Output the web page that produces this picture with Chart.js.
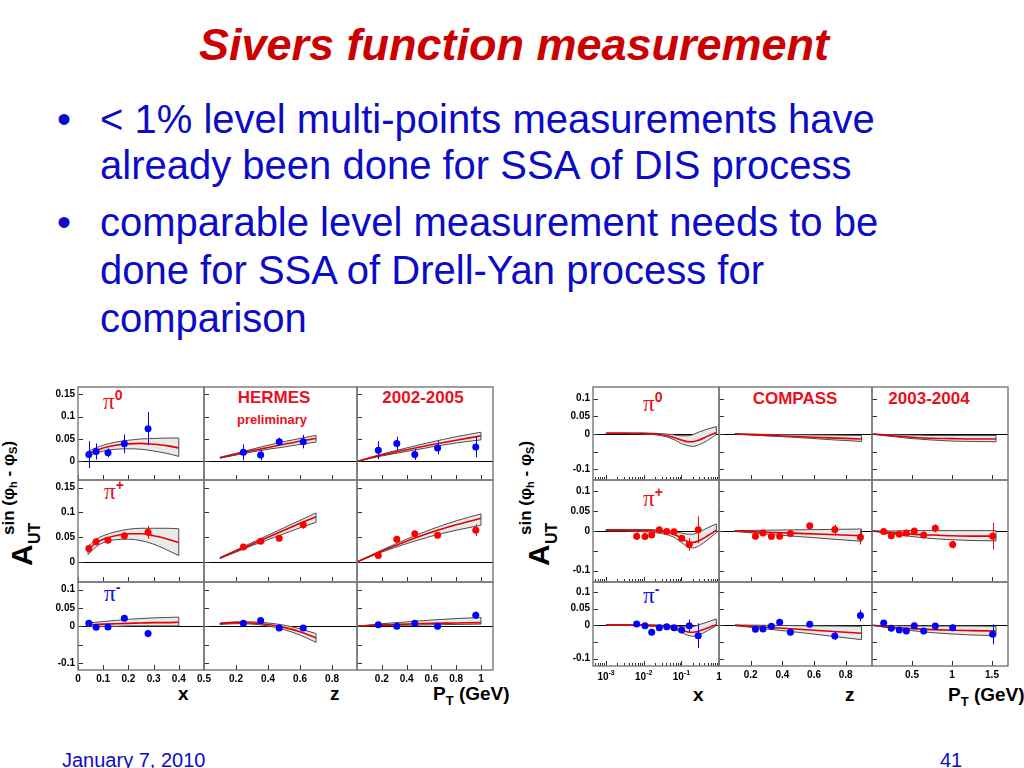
<!DOCTYPE html>
<html><head><meta charset="utf-8">
<script src="https://cdn.jsdelivr.net/npm/chart.js@4.4.1/dist/chart.umd.min.js"></script>
<style>
body{margin:0;width:1024px;height:768px;background:#fff;position:relative;overflow:hidden;font-family:"Liberation Sans",Arial,sans-serif;}
.t{position:absolute;white-space:nowrap;line-height:1;}
.c{transform:translateX(-50%);}
canvas{position:absolute;}
.title{font-weight:bold;font-style:italic;font-size:45px;color:#cc0000;}
.bl{font-size:40px;color:#0c0cc8;}
.foot{font-size:20px;color:#0c0cc8;}
.lab{font-weight:bold;font-size:17px;color:#e8101a;}
.pi{font-family:"Liberation Serif",serif;font-size:23px;}
.pi span{font-family:"Liberation Sans",sans-serif;font-weight:bold;font-size:14px;position:relative;top:-9px;}
.axt{font-weight:bold;font-size:19px;color:#000;}
.axt sub{font-size:13px;vertical-align:baseline;position:relative;top:5px;}
.ylab{position:absolute;width:150px;height:48px;transform-origin:0 0;transform:rotate(-90deg);font-weight:bold;color:#000;}
.ylab span{position:absolute;line-height:1;white-space:nowrap;}
.ylab .A{left:0;top:7px;font-size:30px;}
.ylab .sup{left:31px;top:0px;font-size:17px;}
.ylab .sup i{font-style:normal;font-size:11px;position:relative;top:3px;}
.ylab .sub{left:22px;top:27px;font-size:16px;}
</style></head><body>

<div class="t c title" style="left:514px;top:22px;">Sivers function measurement</div>
<div class="t bl" style="left:57px;top:99px;">•</div>
<div class="t bl" style="left:100px;top:99px;">&lt; 1% level multi-points measurements have</div>
<div class="t bl" style="left:100px;top:145px;">already been done for SSA of DIS process</div>
<div class="t bl" style="left:57px;top:202px;">•</div>
<div class="t bl" style="left:100px;top:202px;">comparable level measurement needs to be</div>
<div class="t bl" style="left:100px;top:250px;">done for SSA of Drell-Yan process for</div>
<div class="t bl" style="left:100px;top:298px;">comparison</div>
<div class="t foot" style="left:62px;top:750px;">January 7, 2010</div>
<div class="t foot" style="left:940px;top:750px;">41</div>

<div class="ylab" style="left:0px;top:566px;"><span class="A">A</span><span class="sup">sin (φ<i>h</i> - φ<i>S</i>)</span><span class="sub">UT</span></div>
<div class="ylab" style="left:517px;top:566px;"><span class="A">A</span><span class="sup">sin (φ<i>h</i> - φ<i>S</i>)</span><span class="sub">UT</span></div>

<div class="t pi" style="left:103px;top:390px;color:#e8101a;">π<span>0</span></div>
<div class="t pi" style="left:104px;top:480px;color:#e8101a;">π<span>+</span></div>
<div class="t pi" style="left:104px;top:582px;color:#1010e0;">π<span>-</span></div>
<div class="t pi" style="left:643px;top:392px;color:#e8101a;">π<span>0</span></div>
<div class="t pi" style="left:643px;top:487px;color:#e8101a;">π<span>+</span></div>
<div class="t pi" style="left:643px;top:584px;color:#1010e0;">π<span>-</span></div>

<div class="t c lab" style="left:274px;top:389px;">HERMES</div>
<div class="t c lab" style="left:272px;top:413px;font-size:13px;">preliminary</div>
<div class="t c lab" style="left:423px;top:389px;">2002-2005</div>
<div class="t c lab" style="left:795px;top:390px;">COMPASS</div>
<div class="t c lab" style="left:929px;top:390px;">2003-2004</div>

<div class="t axt" style="left:178px;top:684px;">x</div>
<div class="t axt" style="left:330px;top:684px;">z</div>
<div class="t axt" style="left:433px;top:684px;">P<sub>T</sub> (GeV)</div>
<div class="t axt" style="left:693px;top:685px;">x</div>
<div class="t axt" style="left:845px;top:685px;">z</div>
<div class="t axt" style="left:948px;top:685px;">P<sub>T</sub> (GeV)</div>

<script>
// ---------------- DATA ----------------
// HERMES measured points (x positions per kinematic variable)
const hermesXPts  = [0.043, 0.072, 0.119, 0.184, 0.278];
const hermesZPts  = [0.246, 0.354, 0.470, 0.620];
const hermesPTPts = [0.172, 0.321, 0.466, 0.650, 0.958];

const hermesX_pi0    = [0.015, 0.022, 0.019, 0.039, 0.073];
const hermesX_pi0Err = [0.030, 0.018, 0.010, 0.021, 0.037];
const hermesX_pip    = [0.027, 0.041, 0.044, 0.053, 0.060];
const hermesX_pipErr = [0.008, 0.006, 0.005, 0.006, 0.013];
const hermesX_pim    = [0.008, -0.003, -0.002, 0.022, -0.020];
const hermesX_pimErr = [0.008, 0.006, 0.005, 0.007, 0.010];

const hermesZ_pi0    = [0.020, 0.014, 0.044, 0.044];
const hermesZ_pi0Err = [0.018, 0.012, 0.009, 0.015];
const hermesZ_pip    = [0.030, 0.042, 0.048, 0.075];
const hermesZ_pipErr = [0.005, 0.005, 0.005, 0.008];
const hermesZ_pim    = [0.008, 0.016, -0.005, -0.005];
const hermesZ_pimErr = [0.006, 0.006, 0.006, 0.008];

const hermesPT_pi0    = [0.025, 0.040, 0.015, 0.030, 0.032];
const hermesPT_pi0Err = [0.020, 0.015, 0.012, 0.015, 0.023];
const hermesPT_pip    = [0.013, 0.046, 0.057, 0.054, 0.064];
const hermesPT_pipErr = [0.005, 0.006, 0.006, 0.006, 0.012];
const hermesPT_pim    = [0.004, 0.000, 0.008, 0.000, 0.030];
const hermesPT_pimErr = [0.005, 0.005, 0.005, 0.005, 0.010];

// HERMES model curves (central, upper, lower)
const hermesCurveX  = [0.04, 0.07, 0.1, 0.15, 0.2, 0.25, 0.3, 0.35, 0.4];
const hermesCurveZ  = [0.1, 0.2, 0.3, 0.4, 0.5, 0.6, 0.7];
const hermesCurvePT = [0, 0.2, 0.4, 0.6, 0.8, 1.0];

const hX_pi0_mid = [0.017, 0.024, 0.030, 0.036, 0.039, 0.040, 0.038, 0.035, 0.030];
const hX_pi0_hi  = [0.022, 0.030, 0.036, 0.043, 0.047, 0.050, 0.051, 0.052, 0.052];
const hX_pi0_lo  = [0.012, 0.018, 0.023, 0.027, 0.028, 0.027, 0.023, 0.018, 0.011];
const hX_pip_mid = [0.025, 0.038, 0.046, 0.053, 0.057, 0.057, 0.053, 0.047, 0.039];
const hX_pip_hi  = [0.031, 0.045, 0.053, 0.061, 0.066, 0.068, 0.068, 0.068, 0.067];
const hX_pip_lo  = [0.015, 0.030, 0.039, 0.045, 0.046, 0.043, 0.036, 0.025, 0.013];
const hX_pim_mid = [0.004, 0.005, 0.006, 0.007, 0.008, 0.009, 0.010, 0.010, 0.011];
const hX_pim_hi  = [0.009, 0.011, 0.013, 0.016, 0.019, 0.021, 0.023, 0.024, 0.025];
const hX_pim_lo  = [-0.001, 0.000, 0.000, 0.000, 0.001, 0.001, 0.001, 0.001, 0.001];

const hZ_pi0_mid = [0.008, 0.016, 0.024, 0.031, 0.038, 0.045, 0.051];
const hZ_pi0_hi  = [0.009, 0.018, 0.027, 0.036, 0.044, 0.051, 0.058];
const hZ_pi0_lo  = [0.007, 0.014, 0.021, 0.027, 0.032, 0.038, 0.043];
const hZ_pip_mid = [0.008, 0.022, 0.036, 0.050, 0.064, 0.078, 0.091];
const hZ_pip_hi  = [0.009, 0.024, 0.039, 0.054, 0.069, 0.084, 0.099];
const hZ_pip_lo  = [0.007, 0.020, 0.033, 0.045, 0.057, 0.069, 0.080];
const hZ_pim_mid = [0.007, 0.010, 0.009, 0.005, -0.003, -0.015, -0.032];
const hZ_pim_hi  = [0.009, 0.012, 0.012, 0.009, 0.003, -0.007, -0.020];
const hZ_pim_lo  = [0.005, 0.007, 0.006, 0.001, -0.009, -0.024, -0.044];

const hPT_pi0_mid = [0, 0.014, 0.026, 0.037, 0.047, 0.057];
const hPT_pi0_hi  = [0, 0.016, 0.030, 0.043, 0.055, 0.065];
const hPT_pi0_lo  = [0, 0.012, 0.022, 0.032, 0.041, 0.048];
const hPT_pip_mid = [0, 0.022, 0.042, 0.060, 0.075, 0.088];
const hPT_pip_hi  = [0, 0.024, 0.046, 0.066, 0.083, 0.097];
const hPT_pip_lo  = [0, 0.020, 0.037, 0.052, 0.064, 0.074];
const hPT_pim_mid = [0, 0.004, 0.006, 0.008, 0.009, 0.010];
const hPT_pim_hi  = [0, 0.007, 0.012, 0.017, 0.021, 0.024];
const hPT_pim_lo  = [0, 0.002, 0.003, 0.004, 0.005, 0.006];

// COMPASS measured points
const compassXPts  = [0.0065, 0.0108, 0.0163, 0.026, 0.041, 0.064, 0.102, 0.162, 0.28];
const compassZPts  = [0.230, 0.278, 0.331, 0.383, 0.451, 0.573, 0.731, 0.893];
const compassPTPts = [0.146, 0.241, 0.341, 0.429, 0.529, 0.646, 0.791, 1.008, 1.508];

const compassX_pip    = [-0.013, -0.014, -0.010, 0.003, -0.001, -0.002, -0.018, -0.034, 0.003];
const compassX_pipErr = [0.010, 0.007, 0.006, 0.006, 0.006, 0.006, 0.008, 0.016, 0.034];
const compassX_pim    = [0.004, -0.001, -0.021, -0.007, -0.004, -0.007, -0.014, -0.001, -0.031];
const compassX_pimErr = [0.008, 0.006, 0.006, 0.006, 0.006, 0.007, 0.009, 0.018, 0.037];

const compassZ_pip    = [-0.013, -0.005, -0.014, -0.013, -0.006, 0.013, 0.004, -0.016];
const compassZ_pipErr = [0.006, 0.005, 0.005, 0.005, 0.006, 0.007, 0.012, 0.018];
const compassZ_pim    = [-0.012, -0.011, -0.003, 0.009, -0.021, 0.003, -0.032, 0.029];
const compassZ_pimErr = [0.006, 0.006, 0.006, 0.006, 0.007, 0.008, 0.012, 0.017];

const compassPT_pip    = [-0.001, -0.012, -0.008, -0.005, 0.000, -0.010, 0.007, -0.034, -0.013];
const compassPT_pipErr = [0.005, 0.005, 0.005, 0.005, 0.006, 0.006, 0.010, 0.010, 0.034];
const compassPT_pim    = [0.007, -0.009, -0.014, -0.017, -0.001, -0.017, -0.002, -0.007, -0.027];
const compassPT_pimErr = [0.006, 0.005, 0.005, 0.005, 0.006, 0.006, 0.008, 0.010, 0.030];

// COMPASS model curves
const compassCurveX  = [0.001, 0.003, 0.01, 0.02, 0.04, 0.07, 0.1, 0.15, 0.2, 0.3, 0.5, 0.85];
const compassCurveZ  = [0.1, 0.3, 0.5, 0.7, 0.9];
const compassCurvePT = [0, 0.25, 0.5, 0.75, 1.0, 1.25, 1.55];

const cX_pi0_mid = [0.002, 0.002, 0.001, 0.000, -0.004, -0.011, -0.017, -0.022, -0.022, -0.017, -0.006, 0.004];
const cX_pi0_hi  = [0.003, 0.003, 0.003, 0.002, 0.000, -0.003, -0.005, -0.005, -0.002, 0.006, 0.014, 0.021];
const cX_pi0_lo  = [0.001, 0.001, 0.000, -0.002, -0.008, -0.018, -0.027, -0.033, -0.035, -0.030, -0.018, -0.001];
const cX_pip_mid = [0.002, 0.002, 0.001, 0.000, -0.003, -0.010, -0.018, -0.027, -0.029, -0.024, -0.012, 0.002];
const cX_pip_hi  = [0.004, 0.004, 0.004, 0.003, 0.001, -0.002, -0.005, -0.008, -0.008, -0.002, 0.008, 0.018];
const cX_pip_lo  = [0.000, 0.000, -0.002, -0.004, -0.009, -0.018, -0.029, -0.040, -0.043, -0.037, -0.022, -0.004];
const cX_pim_mid = [0.001, 0.001, 0.000, -0.001, -0.003, -0.008, -0.013, -0.020, -0.021, -0.017, -0.008, 0.002];
const cX_pim_hi  = [0.002, 0.002, 0.002, 0.001, 0.000, -0.002, -0.004, -0.005, -0.004, 0.002, 0.010, 0.019];
const cX_pim_lo  = [0.000, 0.000, -0.001, -0.003, -0.006, -0.013, -0.021, -0.030, -0.033, -0.028, -0.016, -0.001];

const cZ_pi0_mid = [0, -0.004, -0.007, -0.011, -0.014];
const cZ_pi0_hi  = [0.001, -0.001, -0.002, -0.003, -0.004];
const cZ_pi0_lo  = [0, -0.005, -0.010, -0.016, -0.021];
const cZ_pip_mid = [0, -0.003, -0.006, -0.009, -0.012];
const cZ_pip_hi  = [0.001, 0.002, 0.003, 0.004, 0.005];
const cZ_pip_lo  = [-0.001, -0.008, -0.014, -0.020, -0.026];
const cZ_pim_mid = [0, -0.006, -0.012, -0.018, -0.024];
const cZ_pim_hi  = [0.001, 0.000, -0.001, -0.002, -0.003];
const cZ_pim_lo  = [-0.001, -0.011, -0.021, -0.032, -0.043];

const cPT_pi0_mid = [0, -0.005, -0.009, -0.012, -0.013, -0.014, -0.014];
const cPT_pi0_hi  = [0, -0.002, -0.003, -0.004, -0.004, -0.004, -0.004];
const cPT_pi0_lo  = [0, -0.007, -0.013, -0.017, -0.020, -0.021, -0.022];
const cPT_pip_mid = [0, -0.004, -0.008, -0.010, -0.012, -0.013, -0.013];
const cPT_pip_hi  = [0, 0.000, 0.001, 0.001, 0.001, 0.001, 0.001];
const cPT_pip_lo  = [0, -0.008, -0.014, -0.019, -0.022, -0.024, -0.025];
const cPT_pim_mid = [0, -0.006, -0.010, -0.013, -0.015, -0.016, -0.017];
const cPT_pim_hi  = [0, -0.001, -0.002, -0.002, -0.002, -0.002, -0.003];
const cPT_pim_lo  = [0, -0.009, -0.016, -0.022, -0.026, -0.029, -0.031];

// Tick values and labels
const hermesYTicksTop   = [0, 0.05, 0.1, 0.15];
const hermesYLabelsTop  = ['0', '0.05', '0.1', '0.15'];
const hermesYTicksBot   = [-0.1, -0.05, 0, 0.05, 0.1];
const hermesYLabelsBot  = ['-0.1', '', '0', '0.05', '0.1'];
const compassYTicks     = [-0.1, -0.05, 0, 0.05, 0.1];
const compassYLabels    = ['-0.1', '', '0', '0.05', '0.1'];

const hermesXTickVals = [0, 0.1, 0.2, 0.3, 0.4, 0.5];
const hermesXTickLabs = ['0', '0.1', '0.2', '0.3', '0.4', '0.5'];
const hermesZTickVals = [0.2, 0.4, 0.6, 0.8];
const hermesZTickLabs = ['0.2', '0.4', '0.6', '0.8'];
const hermesPTTickVals = [0.2, 0.4, 0.6, 0.8, 1];
const hermesPTTickLabs = ['0.2', '0.4', '0.6', '0.8', '1'];
const compassXTickVals = [0.001, 0.01, 0.1, 1];
const compassXTickBase = ['10', '10', '10', '1'];
const compassXTickExp  = ['-3', '-2', '-1', ''];
const compassXMinor = [0.0005,0.0006,0.0007,0.0008,0.0009,0.002,0.003,0.004,0.005,0.006,0.007,0.008,0.009,0.02,0.03,0.04,0.05,0.06,0.07,0.08,0.09,0.2,0.3,0.4,0.5,0.6,0.7,0.8,0.9];
const compassZTickVals = [0.2, 0.4, 0.6, 0.8];
const compassZTickLabs = ['0.2', '0.4', '0.6', '0.8'];
const compassPTTickVals = [0.5, 1, 1.5];
const compassPTTickLabs = ['0.5', '1', '1.5'];

// ---------------- DRAWING ----------------
const RED = 'rgb(255,0,0)', BLUE = 'rgb(0,0,255)';
const PAD = {l: 40, r: 14, t: 4, b: 22};

const framePlugin = {
  id: 'frame',
  beforeDatasetsDraw(chart) {
    const {ctx, chartArea: a, scales: {y}} = chart;
    ctx.save();
    ctx.strokeStyle = '#000'; ctx.lineWidth = 1;
    const y0 = Math.round(y.getPixelForValue(0)) + 0.5;
    ctx.beginPath(); ctx.moveTo(a.left, y0); ctx.lineTo(a.right, y0); ctx.stroke();
    ctx.restore();
  },
  afterDatasetsDraw(chart) {
    const {ctx, chartArea: a, scales: {x, y}} = chart;
    ctx.save();
    ctx.beginPath(); ctx.rect(a.left, a.top, a.right - a.left, a.bottom - a.top); ctx.clip();
    chart.data.datasets.forEach(ds => {
      if (ds.band) {
        ctx.strokeStyle = ds.borderColor; ctx.lineWidth = 1;
        [0, ds.data.length - 1].forEach(i => {
          const px = x.getPixelForValue(ds.data[i].x);
          ctx.beginPath();
          ctx.moveTo(px, y.getPixelForValue(ds.data[i].y));
          ctx.lineTo(px, y.getPixelForValue(ds.band[i]));
          ctx.stroke();
        });
      }
      if (ds.errs) {
        ctx.strokeStyle = ds.borderColor; ctx.lineWidth = 1;
        ds.data.forEach((p, i) => {
          const px = Math.round(x.getPixelForValue(p.x)) + 0.5;
          ctx.beginPath();
          ctx.moveTo(px, y.getPixelForValue(p.y - ds.errs[i]));
          ctx.lineTo(px, y.getPixelForValue(p.y + ds.errs[i]));
          ctx.stroke();
        });
      }
    });
    ctx.restore();
  },
  afterDraw(chart, args, o) {
    const {ctx, chartArea: a, scales: {x, y}} = chart;
    ctx.save();
    ctx.strokeStyle = '#333'; ctx.lineWidth = 1;
    const seg = (x1, y1, x2, y2) => { ctx.beginPath(); ctx.moveTo(x1, y1); ctx.lineTo(x2, y2); ctx.stroke(); };
    (o.xTicks || []).forEach(v => { const px = Math.round(x.getPixelForValue(v)) + 0.5; seg(px, a.bottom, px, a.bottom - 5); });
    (o.xMinor || []).forEach(v => { const px = Math.round(x.getPixelForValue(v)) + 0.5; if (px > a.left && px < a.right) seg(px, a.bottom, px, a.bottom - 3); });
    (o.yTicks || []).forEach(v => { const py = Math.round(y.getPixelForValue(v)) + 0.5; seg(a.left, py, a.left + 5, py); });
    ctx.strokeStyle = '#777'; ctx.lineWidth = 1.4;
    ctx.strokeRect(a.left, a.top, a.right - a.left, a.bottom - a.top);
    // power-of-ten tick labels (base + raised exponent) placed by the x scale
    if (o.powBase) {
      ctx.fillStyle = '#000'; ctx.textBaseline = 'alphabetic';
      o.xTicks.forEach((v, i) => {
        const px = x.getPixelForValue(v);
        ctx.font = 'bold 10px "Liberation Sans"';
        const wb = ctx.measureText(o.powBase[i]).width;
        ctx.font = 'bold 7px "Liberation Sans"';
        const we = o.powExp[i] ? ctx.measureText(o.powExp[i]).width : 0;
        const x0 = px - (wb + we) / 2, base = a.bottom + 14;
        ctx.font = 'bold 10px "Liberation Sans"';
        ctx.fillText(o.powBase[i], x0, base);
        if (we) { ctx.font = 'bold 7px "Liberation Sans"'; ctx.fillText(o.powExp[i], x0 + wb, base - 5); }
      });
    }
    ctx.restore();
  }
};

function makePanel(c) {
  const [L, T, R, B] = c.frame;
  const cv = document.createElement('canvas');
  const w = R - L + PAD.l + PAD.r, h = B - T + PAD.t + PAD.b;
  cv.width = w; cv.height = h;
  cv.style.left = (L - PAD.l) + 'px'; cv.style.top = (T - PAD.t) + 'px';
  cv.style.width = w + 'px'; cv.style.height = h + 'px';
  document.body.appendChild(cv);
  const line = (ys, extra) => Object.assign({
    data: c.cx.map((x, i) => ({x, y: ys[i]})), pointRadius: 0, fill: false,
    cubicInterpolationMode: 'monotone', borderWidth: 1, borderColor: '#4a4a4a'
  }, extra);
  const datasets = [
    line(c.hi, {fill: '+1', backgroundColor: '#e9e9e9', order: 3, band: c.lo}),
    line(c.lo, {order: 2}),
    line(c.mid, {borderColor: 'rgb(228,0,0)', borderWidth: 1.6, order: 1})
  ];
  if (c.px) datasets.push({
    data: c.px.map((x, i) => ({x, y: c.py[i]})), showLine: false, pointRadius: 3.5,
    pointBackgroundColor: c.color, pointBorderWidth: 0, borderColor: c.color, order: 0, errs: c.pe
  });
  const font = {family: 'Liberation Sans', weight: 'bold', size: 10};
  const zeroPad = s => { s.paddingLeft = s.paddingRight = s.paddingTop = s.paddingBottom = 0; };
  new Chart(cv, {
    type: 'line',
    data: {datasets},
    plugins: [framePlugin],
    options: {
      responsive: false, animation: false, events: [],
      layout: {padding: {left: c.showY ? 0 : PAD.l, right: PAD.r, top: PAD.t, bottom: c.showX ? 0 : PAD.b}},
      plugins: {legend: {display: false}, tooltip: {enabled: false},
        frame: {xTicks: c.xTicks, xMinor: c.xMinor, yTicks: c.yTicks,
                powBase: c.showX ? c.powBase : null, powExp: c.powExp}},
      scales: {
        x: {
          type: c.xType, min: c.xMin, max: c.xMax, display: c.showX,
          grid: {display: false, drawTicks: false}, border: {display: false},
          ticks: {autoSkip: false, maxRotation: 0, minRotation: 0, padding: 3, font, color: '#000',
            callback: (v, i) => c.xLabels ? c.xLabels[i] : ''},
          afterBuildTicks: s => { s.ticks = c.xTicks.map(v => ({value: v})); },
          afterFit: s => { s.height = c.showX ? PAD.b : 0; zeroPad(s); }
        },
        y: {
          type: 'linear', min: c.yMin, max: c.yMax, display: c.showY,
          grid: {display: false, drawTicks: false}, border: {display: false},
          ticks: {autoSkip: false, padding: 3, font, color: '#000',
            callback: (v, i) => c.yLabels[i]},
          afterBuildTicks: s => { s.ticks = c.yTicks.map(v => ({value: v})); },
          afterFit: s => { s.width = c.showY ? PAD.l : 0; zeroPad(s); }
        }
      }
    }
  });
}

const hermesCols = [78, 204, 357, 493];
const hermesRows = [387, 480, 582, 670];
const compassCols = [593, 719, 872, 1008];
const compassRows = [387, 480, 582, 666];
const hermesYRange = [[-0.0417, 0.166], [-0.0403, 0.1653], [-0.1195, 0.121]];
const compassYRange = [[-0.13, 0.1328], [-0.1288, 0.1288], [-0.1218, 0.1296]];

const hermesColDefs = [
  {xType: 'linear', xMin: 0, xMax: 0.5, xTicks: hermesXTickVals, xLabels: hermesXTickLabs, cx: hermesCurveX, px: hermesXPts,
   rows: [[hX_pi0_mid, hX_pi0_hi, hX_pi0_lo, hermesX_pi0, hermesX_pi0Err],
          [hX_pip_mid, hX_pip_hi, hX_pip_lo, hermesX_pip, hermesX_pipErr],
          [hX_pim_mid, hX_pim_hi, hX_pim_lo, hermesX_pim, hermesX_pimErr]]},
  {xType: 'linear', xMin: 0, xMax: 0.956, xTicks: hermesZTickVals, xLabels: hermesZTickLabs, cx: hermesCurveZ, px: hermesZPts,
   rows: [[hZ_pi0_mid, hZ_pi0_hi, hZ_pi0_lo, hermesZ_pi0, hermesZ_pi0Err],
          [hZ_pip_mid, hZ_pip_hi, hZ_pip_lo, hermesZ_pip, hermesZ_pipErr],
          [hZ_pim_mid, hZ_pim_hi, hZ_pim_lo, hermesZ_pim, hermesZ_pimErr]]},
  {xType: 'linear', xMin: 0, xMax: 1.097, xTicks: hermesPTTickVals, xLabels: hermesPTTickLabs, cx: hermesCurvePT, px: hermesPTPts,
   rows: [[hPT_pi0_mid, hPT_pi0_hi, hPT_pi0_lo, hermesPT_pi0, hermesPT_pi0Err],
          [hPT_pip_mid, hPT_pip_hi, hPT_pip_lo, hermesPT_pip, hermesPT_pipErr],
          [hPT_pim_mid, hPT_pim_hi, hPT_pim_lo, hermesPT_pim, hermesPT_pimErr]]}
];
const compassColDefs = [
  {xType: 'logarithmic', xMin: 0.00045, xMax: 1.0, xTicks: compassXTickVals, xMinor: compassXMinor, xLabels: null,
   powBase: compassXTickBase, powExp: compassXTickExp, cx: compassCurveX, px: compassXPts,
   rows: [[cX_pi0_mid, cX_pi0_hi, cX_pi0_lo, null, null],
          [cX_pip_mid, cX_pip_hi, cX_pip_lo, compassX_pip, compassX_pipErr],
          [cX_pim_mid, cX_pim_hi, cX_pim_lo, compassX_pim, compassX_pimErr]]},
  {xType: 'linear', xMin: 0, xMax: 0.966, xTicks: compassZTickVals, xLabels: compassZTickLabs, cx: compassCurveZ, px: compassZPts,
   rows: [[cZ_pi0_mid, cZ_pi0_hi, cZ_pi0_lo, null, null],
          [cZ_pip_mid, cZ_pip_hi, cZ_pip_lo, compassZ_pip, compassZ_pipErr],
          [cZ_pim_mid, cZ_pim_hi, cZ_pim_lo, compassZ_pim, compassZ_pimErr]]},
  {xType: 'linear', xMin: 0, xMax: 1.70, xTicks: compassPTTickVals, xLabels: compassPTTickLabs, cx: compassCurvePT, px: compassPTPts,
   rows: [[cPT_pi0_mid, cPT_pi0_hi, cPT_pi0_lo, null, null],
          [cPT_pip_mid, cPT_pip_hi, cPT_pip_lo, compassPT_pip, compassPT_pipErr],
          [cPT_pim_mid, cPT_pim_hi, cPT_pim_lo, compassPT_pim, compassPT_pimErr]]}
];
const rowColors = [BLUE, RED, BLUE];

function buildGrid(cols, rows, colDefs, yRanges, yTickSets, yLabelSets) {
  colDefs.forEach((cd, ci) => {
    cd.rows.forEach((r, ri) => {
      makePanel({
        frame: [cols[ci], rows[ri], cols[ci + 1], rows[ri + 1]],
        xType: cd.xType, xMin: cd.xMin, xMax: cd.xMax, xTicks: cd.xTicks, xMinor: cd.xMinor || [], xLabels: cd.xLabels,
        powBase: cd.powBase, powExp: cd.powExp,
        yMin: yRanges[ri][0], yMax: yRanges[ri][1], yTicks: yTickSets[ri], yLabels: yLabelSets[ri],
        showX: ri === 2, showY: ci === 0,
        cx: cd.cx, mid: r[0], hi: r[1], lo: r[2],
        px: r[3] ? cd.px : null, py: r[3], pe: r[4], color: rowColors[ri]
      });
    });
  });
}

buildGrid(hermesCols, hermesRows, hermesColDefs, hermesYRange,
  [hermesYTicksTop, hermesYTicksTop, hermesYTicksBot], [hermesYLabelsTop, hermesYLabelsTop, hermesYLabelsBot]);
buildGrid(compassCols, compassRows, compassColDefs, compassYRange,
  [compassYTicks, compassYTicks, compassYTicks], [compassYLabels, compassYLabels, compassYLabels]);
</script>
</body></html>
